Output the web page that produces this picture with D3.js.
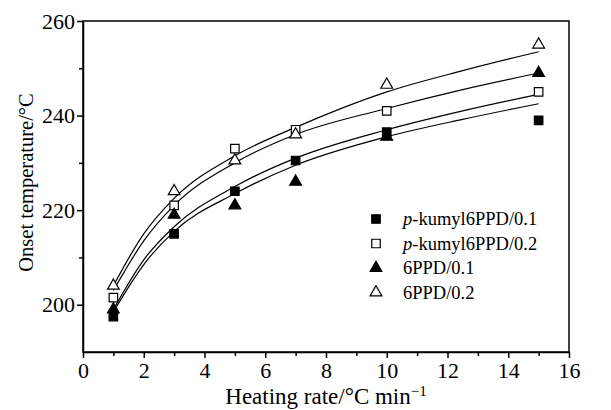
<!DOCTYPE html>
<html>
<head>
<meta charset="utf-8">
<script src="https://cdn.jsdelivr.net/npm/d3@7"></script>
<style>
  body { margin: 0; background: #fff; }
  text { font-family: "Liberation Serif", "Times New Roman", serif; fill: #000; }
</style>
</head>
<body>
<script>
// measured points
const rates = [1, 3, 5, 7, 10, 15];
const seriesNames = ['p-kumyl6PPD/0.1', 'p-kumyl6PPD/0.2', '6PPD/0.1', '6PPD/0.2'];
const pk01 = [197.5, 215, 224, 230.5, 236.5, 239];
const pk02 = [201.5, 221, 233, 237, 241, 245];
const pd01 = [199, 219, 221, 226, 235.5, 249];
const pd02 = [204, 224, 230.5, 236, 246.5, 255];

// fitted curves
const fitRates = [1, 2, 3, 5, 7, 10, 12.5, 15];
const fitPk01 = [198.5, 208.5, 215.5, 223.5, 229.5, 235.5, 239.2, 242.5];
const fitPk02 = [203, 213.5, 221, 230, 236, 241.5, 245.5, 249];
const fitPd01 = [199, 209.5, 216.5, 225, 231, 237, 241, 244.5];
const fitPd02 = [204, 215, 222.5, 231.5, 237.5, 245, 249.5, 253.5];

const xTicks = [0, 2, 4, 6, 8, 10, 12, 14, 16];
const yTicks = [200, 220, 240, 260];

const width = 611;
const height = 410;
const margin = { top: 21, right: 42, bottom: 58, left: 83 };

const svg = d3.select('body')
  .append('svg')
  .attr('width', width)
  .attr('height', height)

const x = d3.scaleLinear()
  .domain([0, 16])
  .range([margin.left, width - margin.right])

const y = d3.scaleLinear()
  .domain([190, 260])
  .range([height - margin.bottom, margin.top])

// frame
svg.append('rect')
  .attr('x', x(0))
  .attr('y', y(260))
  .attr('width', x(16) - x(0))
  .attr('height', y(190) - y(260))
  .attr('fill', 'none')
  .attr('stroke', '#000')
  .attr('stroke-width', 1.5)

// x axis, major and minor ticks
svg.append('g')
  .attr('transform', `translate(0, ${y(190)})`)
  .call(d3.axisBottom(x).tickValues(xTicks).tickSize(6).tickSizeOuter(0).tickPadding(4))
svg.append('g')
  .attr('transform', `translate(0, ${y(190)})`)
  .call(d3.axisBottom(x).tickValues(d3.range(1, 16, 2)).tickSize(4).tickFormat(''))
  .call(g => g.select('.domain').remove())

svg.append('g')
  .attr('transform', `translate(${x(0)}, 0)`)
  .call(d3.axisLeft(y).tickValues(yTicks).tickSize(6).tickSizeOuter(0).tickPadding(2))
svg.append('g')
  .attr('transform', `translate(${x(0)}, 0)`)
  .call(d3.axisLeft(y).tickValues([210, 230, 250]).tickSize(4).tickFormat(''))
  .call(g => g.select('.domain').remove())

svg.selectAll('.domain, .tick line')
  .attr('stroke', '#000')
  .attr('stroke-width', 1.5)
svg.selectAll('.tick text')
  .style('font-family', '"Liberation Serif", serif')
  .style('font-size', '22px')
  .attr('fill', '#000')

// axis titles
const xTitle = svg.append('text')
  .attr('x', x(8))
  .attr('y', 404)
  .attr('text-anchor', 'middle')
  .style('font-size', '23px')
xTitle.append('tspan').text('Heating rate/°C min')
xTitle.append('tspan').attr('dy', -8).style('font-size', '15px').text('−1')

svg.append('text')
  .attr('transform', `translate(33, ${(y(190) + y(260)) / 2 - 4}) rotate(-90)`)
  .attr('text-anchor', 'middle')
  .style('font-size', '20.5px')
  .text('Onset temperature/°C')

// fitted curves
const line = d3.line()
  .x((d) => x(d[0]))
  .y((d) => y(d[1]))
  .curve(d3.curveMonotoneX)

const fits = [fitPk01, fitPk02, fitPd01, fitPd02];
fits.forEach((vals) => {
  svg.append('path')
    .datum(fitRates.map((r, i) => [r, vals[i]]))
    .attr('d', line)
    .attr('fill', 'none')
    .attr('stroke', '#000')
    .attr('stroke-width', 1.2)
})

// markers
const squareSym = d3.symbol().type(d3.symbolSquare).size(72);
const triSym = d3.symbol().type(d3.symbolTriangle).size(60);
const styles = [
  { sym: squareSym, fill: '#000' },
  { sym: squareSym, fill: '#fff' },
  { sym: triSym, fill: '#000' },
  { sym: triSym, fill: '#fff' }
];
const allSeries = [pk01, pk02, pd01, pd02];

allSeries.forEach((vals, s) => {
  svg.append('g')
    .selectAll('path')
    .data(rates.map((r, i) => [r, vals[i]]))
    .join('path')
    .attr('d', styles[s].sym)
    .attr('transform', (d) => `translate(${x(d[0])}, ${y(d[1])})`)
    .attr('fill', styles[s].fill)
    .attr('stroke', '#000')
    .attr('stroke-width', 1.2)
})

// legend
const legend = svg.append('g').attr('transform', 'translate(376, 219)');
seriesNames.forEach((name, i) => {
  const row = legend.append('g').attr('transform', `translate(0, ${i * 24.5})`);
  row.append('path')
    .attr('d', styles[i].sym)
    .attr('fill', styles[i].fill)
    .attr('stroke', '#000')
    .attr('stroke-width', 1.2)
  const t = row.append('text')
    .attr('x', 27)
    .attr('y', 6)
    .style('font-size', '18.5px')
  if (name.startsWith('p-')) {
    t.append('tspan').style('font-style', 'italic').text('p');
    t.append('tspan').text(name.slice(1));
  } else {
    t.text(name);
  }
})
</script>
</body>
</html>
